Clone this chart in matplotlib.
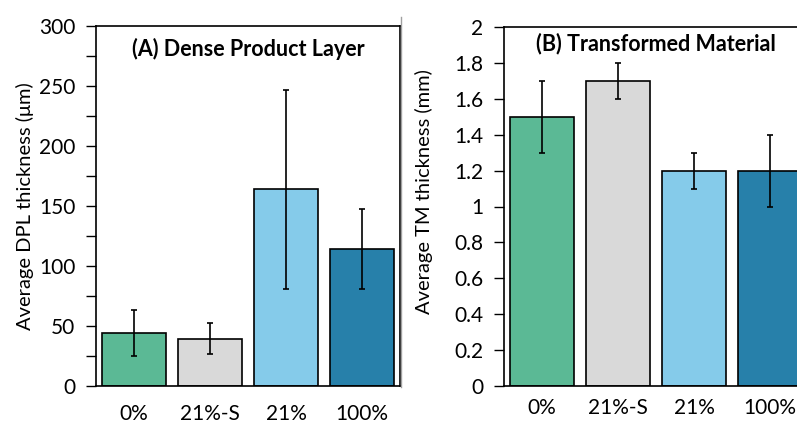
import matplotlib
matplotlib.use("Agg")
import matplotlib.pyplot as plt
from matplotlib.lines import Line2D
from matplotlib.ticker import MultipleLocator
import numpy as np

# data
categories = ["0%", "21%-S", "21%", "100%"]
colors = ["#5BB995", "#D9D9D9", "#85CBEA", "#2780AA"]

dpl_mean = [44, 39.5, 164, 114]
dpl_err = [19, 13, 83, 33.5]

tm_mean = [1.5, 1.7, 1.2, 1.2]
tm_err = [0.2, 0.1, 0.1, 0.2]

plt.rcParams['font.family'] = ['Lato', 'DejaVu Sans']
plt.rcParams['font.size'] = 15

fig = plt.figure(figsize=(7.97, 4.21), dpi=100)
W, H = 797, 421

def panel(px_left, px_top, px_bottom):
    return fig.add_axes([px_left / W, 1 - px_bottom / H, 304 / W, (px_bottom - px_top) / H])

x = np.arange(len(categories))

# (A) dense product layer
ax1 = panel(96, 26, 386)
ax1.bar(x, dpl_mean, width=0.84, color=colors, edgecolor='black', linewidth=1.2, zorder=2)
ax1.errorbar(x, dpl_mean, yerr=dpl_err, fmt='none', ecolor='black', elinewidth=1.2,
             capsize=2.5, capthick=1.2, zorder=3)
ax1.set_xlim(-0.5, 3.5)
ax1.set_ylim(0, 300)
ax1.yaxis.set_major_locator(MultipleLocator(50))
ax1.yaxis.set_minor_locator(MultipleLocator(25))
ax1.tick_params(axis='y', which='both', direction='out', length=7, width=1, pad=8, labelsize=15)
ax1.tick_params(axis='x', length=0, pad=13, labelsize=15)
ax1.set_xticks(x)
ax1.set_xticklabels(categories)
ax1.set_ylabel("Average DPL thickness (μm)", fontsize=14.5)
ax1.yaxis.set_label_coords(-0.205, 0.5)
ax1.text(0.5, 0.936, "(A) Dense Product Layer", transform=ax1.transAxes,
         ha='center', va='center', fontsize=15.5, fontweight='bold')
for s in ax1.spines.values():
    s.set_linewidth(1.2)

# (B) transformed material
ax2 = panel(504, 27, 386)
ax2.bar(x, tm_mean, width=0.83, color=colors, edgecolor='black', linewidth=1.2, zorder=2)
ax2.errorbar(x, tm_mean, yerr=tm_err, fmt='none', ecolor='black', elinewidth=1.2,
             capsize=2.5, capthick=1.2, zorder=3)
ax2.set_xlim(-0.5, 3.5)
ax2.set_ylim(0, 2)
ax2.set_yticks(np.arange(0, 2.01, 0.2))
ax2.set_yticklabels(["0", "0.2", "0.4", "0.6", "0.8", "1", "1.2", "1.4", "1.6", "1.8", "2"])
ax2.tick_params(axis='y', direction='out', length=7, width=1, pad=8, labelsize=15)
ax2.tick_params(axis='x', length=0, pad=9, labelsize=15)
ax2.set_xticks(x)
ax2.set_xticklabels(categories)
ax2.set_ylabel("Average TM thickness (mm)", fontsize=14.5)
ax2.yaxis.set_label_coords(-0.232, 0.542)
ax2.text(0.5, 0.953, "(B) Transformed Material", transform=ax2.transAxes,
         ha='center', va='center', fontsize=15.5, fontweight='bold')
for s in ax2.spines.values():
    s.set_linewidth(1.2)

# thin grey frame edge between the panels
fig.add_artist(Line2D([400.5 / W, 400.5 / W], [1 - 387 / H, 1 - 17 / H],
                      transform=fig.transFigure, color='#A0A0A0', linewidth=1))

fig.savefig("out.png", dpi=100)
